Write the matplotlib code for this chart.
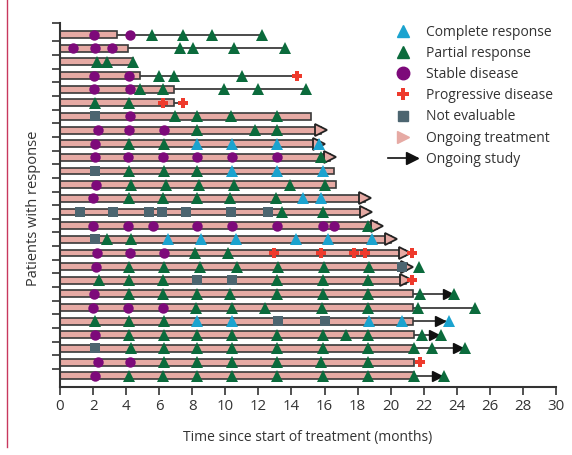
import numpy as np
import matplotlib.pyplot as plt
from matplotlib.lines import Line2D
from matplotlib.legend_handler import HandlerBase

plt.rcParams['font.family'] = ['Open Sans', 'DejaVu Sans']

# one entry per patient, top row first
rows = np.arange(1, 27)

# end of treatment bar (months)
treat_end = [3.45, 4.1, 4.4, 4.85, 6.9, 6.9, 15.2, 16.1, 16.0, 16.7, 16.6, 16.7, 18.8,
             18.85, 19.5, 20.35, 21.2, 21.35, 21.25, 21.35, 21.35, 21.35, 21.4, 21.4,
             21.4, 21.4]
on_treatment = [0, 0, 0, 0, 0, 0, 0, 1, 1, 1, 0, 0, 1, 1, 1, 1, 1, 1, 1, 0, 0, 0, 0, 0, 0, 0]

# follow-up after treatment stopped (None = no line)
follow_end = [12.24, 13.6, None, 14.34, 14.9, 7.43, None, None, None, None, None, None,
              None, None, None, None, None, None, None, 23.75, 25.1, 23.3, 22.9, 24.35,
              None, 23.1]
on_study = [0, 0, 0, 0, 0, 0, 0, 0, 0, 0, 0, 0, 0, 0, 0, 0, 0, 0, 0, 1, 0, 1, 1, 1, 0, 1]

# assessment times per patient, by response
cr_times = [[], [], [], [], [], [], [], [],
            [8.3, 10.4, 13.1, 15.65], [], [10.4, 13.1, 15.9], [], [14.67, 15.8], [], [],
            [6.52, 8.54, 10.65, 14.3, 16.2, 18.9], [], [], [], [], [],
            [8.3, 10.4, 18.7, 20.66, 23.5], [], [], [], []]
pr_times = [[5.55, 7.43, 9.19, 12.24], [7.23, 8.04, 10.5, 13.6], [2.24, 2.83, 4.4],
            [5.96, 6.87, 11.03], [4.85, 6.22, 9.9, 11.98, 14.9], [2.12, 4.2],
            [6.93, 8.3, 10.36, 13.13], [8.27, 11.78, 13.13], [4.2, 6.3], [15.8],
            [4.2, 6.3, 8.3], [4.3, 6.4, 8.4, 10.5, 13.9, 16.0], [4.2, 6.2, 8.3, 10.3, 13.05],
            [13.4, 15.9], [18.6], [2.83, 4.3], [8.14, 10.16],
            [4.2, 6.3, 8.44, 10.7, 13.2, 15.96, 18.7, 21.7],
            [2.34, 4.2, 6.2, 13.1, 15.9, 18.6],
            [4.2, 6.2, 8.3, 10.3, 13.1, 15.88, 18.6, 21.8, 23.84],
            [8.24, 10.4, 12.38, 15.86, 18.6, 21.67, 25.1],
            [2.1, 4.2, 6.3],
            [4.2, 6.3, 8.3, 10.4, 13.1, 15.9, 17.3, 18.65, 21.9, 23.05],
            [4.3, 6.3, 8.3, 10.4, 13.1, 15.9, 18.65, 21.4, 22.5, 24.5],
            [6.3, 8.3, 10.4, 13.1, 15.8, 18.6],
            [4.2, 6.2, 8.3, 10.4, 13.1, 15.9, 18.6, 21.43, 23.25]]
sd_times = [[2.08, 4.24], [0.77, 2.14, 3.15], [], [2.08, 4.16], [2.08, 4.24], [], [4.24],
            [2.28, 4.16, 6.32], [2.1], [2.1, 4.1, 6.2, 8.3, 10.4, 13.1], [], [2.2], [2.0],
            [], [2.0, 4.1, 5.6, 8.3, 10.4, 13.1, 15.9, 16.6], [], [2.22, 4.26, 6.32],
            [2.18], [], [2.08], [2.0, 4.1, 6.2], [], [2.1], [], [2.28, 4.24], [2.1]]
pd_times = [[], [], [], [14.34], [], [6.26, 7.43], [], [], [], [], [], [], [], [], [], [],
            [12.93, 15.76, 17.78, 18.44, 21.3], [], [21.3], [], [], [], [], [], [21.8], []]
ne_times = [[], [], [], [], [], [], [2.12], [], [], [], [2.1], [], [],
            [1.2, 3.23, 5.37, 6.18, 7.63, 10.36, 12.6], [], [2.1], [], [20.66], [8.3, 10.4],
            [], [], [13.2, 16.0], [], [2.1], [], []]

c_bar = '#e6aaa4'
c_cr = '#1ba3cf'
c_pr = '#0b6b3c'
c_sd = '#7d0a7a'
c_pd = '#ee3a2c'
c_ne = '#4c6570'
ink = '#333333'

fig = plt.figure(figsize=(5.72, 4.55), dpi=100)
ax = fig.add_axes([60/572, 1 - 386.7/455, 496/572, (386.7 - 23)/455])

# follow-up lines and ongoing-study arrows
for i, y in enumerate(rows):
    if follow_end[i] is not None:
        ax.plot([treat_end[i], follow_end[i]], [y, y], color='#1a1a1a', lw=1.1, zorder=1)
        if on_study[i]:
            ax.plot(follow_end[i] - 0.29, y, marker='>', ms=7, color='#111111',
                    ls='none', zorder=3)

# treatment bars, with arrow when still on treatment
arrow_len = 0.34
widths = [t - arrow_len if a else t for t, a in zip(treat_end, on_treatment)]
ax.barh(rows, widths, height=0.5, color=c_bar, edgecolor='#3a3a3a', lw=1.2, zorder=2)
for i, y in enumerate(rows):
    if on_treatment[i]:
        ax.plot(treat_end[i] - arrow_len, y, marker='>', ms=8, mfc=c_bar, mec='#222222',
                mew=1.3, ls='none', zorder=3)

# response assessments
styles = [(ne_times, 's', c_ne, 6.5), (sd_times, 'o', c_sd, 7.5),
          (pr_times, '^', c_pr, 8.5), (cr_times, '^', c_cr, 8.5),
          (pd_times, 'P', c_pd, 7.5)]
for times, m, c, s in styles:
    for y, tt in zip(rows, times):
        if tt:
            ax.plot(tt, [y] * len(tt), marker=m, color=c, ms=s, mew=0, ls='none', zorder=4)

ax.set_xlim(0, 30)
ax.set_xticks(np.arange(0, 31, 2))
ax.set_ylim(26.8, 0.15)
ax.set_yticks([0.15] + list(np.arange(1.5, 26, 1)))
ax.set_yticklabels([])
for side in ['top', 'right']:
    ax.spines[side].set_visible(False)
for side in ['left', 'bottom']:
    ax.spines[side].set_color(ink)
    ax.spines[side].set_linewidth(1.5)
ax.tick_params(direction='out', length=6, width=1.2, color=ink, labelcolor=ink,
               labelsize=10.8, pad=3)
ax.set_xlabel('Time since start of treatment (months)', fontsize=10, color=ink)
ax.xaxis.set_label_coords(0.5, -0.118)
ax.set_ylabel('Patients with response', fontsize=10.5, color=ink)
ax.yaxis.set_label_coords(-0.038, 0.49)


class ArrowHandler(HandlerBase):
    def create_artists(self, legend, orig_handle, xdescent, ydescent, width, height,
                       fontsize, trans):
        y = height / 2 - ydescent
        line = Line2D([-xdescent, width - xdescent], [y, y], color='#111111', lw=1.2,
                      transform=trans)
        head = Line2D([width - xdescent - 4], [y], marker='>', ms=8, color='#111111',
                      ls='none', transform=trans)
        return [line, head]


study_handle = Line2D([], [], color='k')
handles = [Line2D([], [], marker='^', color=c_cr, ms=9, ls='none'),
           Line2D([], [], marker='^', color=c_pr, ms=9, ls='none'),
           Line2D([], [], marker='o', color=c_sd, ms=9, ls='none'),
           Line2D([], [], marker='P', color=c_pd, ms=8, mew=0, ls='none'),
           Line2D([], [], marker='s', color=c_ne, ms=7, ls='none'),
           Line2D([], [], marker='>', color=c_bar, ms=9, ls='none'),
           study_handle]
labels = ['Complete response', 'Partial response', 'Stable disease',
          'Progressive disease', 'Not evaluable', 'Ongoing treatment', 'Ongoing study']
leg = ax.legend(handles, labels, loc='upper left', bbox_to_anchor=(388/572, 1 - 25/455),
                bbox_transform=fig.transFigure, frameon=False, fontsize=10,
                handlelength=2.1, handletextpad=0.6, labelspacing=0.44, borderpad=0,
                borderaxespad=0, handler_map={study_handle: ArrowHandler()})
for t in leg.get_texts():
    t.set_color(ink)

# page rule at the left edge
fig.add_artist(Line2D([7/572, 7/572], [1 - 447/455, 1], transform=fig.transFigure,
                      color='#c8385e', lw=1))

fig.savefig('out.png', dpi=100)
